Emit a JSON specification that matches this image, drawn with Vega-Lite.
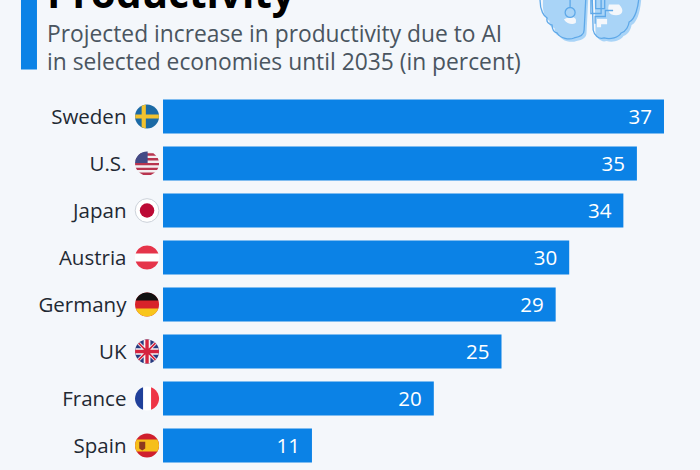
{"$schema":"https://vega.github.io/schema/vega-lite/v6.json","width":700,"height":470,"autosize":{"type":"none"},"padding":0,"background":"#f4f7fb","view":{"stroke":null},
"data":{"values":[{"country":"Sweden","value":37},{"country":"U.S.","value":35},{"country":"Japan","value":34},{"country":"Austria","value":30},{"country":"Germany","value":29},{"country":"UK","value":25},{"country":"France","value":20},{"country":"Spain","value":11}]},
"encoding":{"y":{"field":"country","type":"nominal","axis":null,"scale":{"domain":["h1","h2","Sweden","U.S.","Japan","Austria","Germany","UK","France","Spain"],"range":[-1,469],"paddingInner":0.277,"paddingOuter":0.1385}}},
"layer":[
{"mark":{"type":"bar","color":"#0b82e6"},"encoding":{"x":{"field":"value","type":"quantitative","axis":null,"scale":{"domain":[-12.04,39.66],"range":[0,700],"nice":false,"zero":false}},"x2":{"datum":0}}},
{"mark":{"type":"text","align":"right","baseline":"middle","dx":-12,"dy":1,"font":"Open Sans","fontSize":20.5,"color":"#ffffff"},"encoding":{"x":{"field":"value","type":"quantitative"},"text":{"field":"value","type":"quantitative"}}},
{"mark":{"type":"text","align":"right","baseline":"middle","dy":1,"font":"Open Sans","fontSize":20.5,"color":"#1f2933"},"encoding":{"x":{"datum":-2.7},"text":{"field":"country"}}},

{"data":{"values":[{"n":"bar"}]},"mark":{"type":"rule","color":"#0b82e6","strokeWidth":16,"strokeCap":"butt"},"encoding":{"x":{"datum":-9.9},"y":{"datum":"h1","bandPosition":-1},"y2":{"datum":"h2"}}},
{"data":{"values":[{"t":"Productivity"}]},"mark":{"type":"text","align":"left","baseline":"alphabetic","dy":-14.5,"font":"Open Sans","fontWeight":"bold","fontSize":40.5,"color":"#000000"},"encoding":{"x":{"datum":-8.57},"y":{"datum":"h1"},"text":{"field":"t"}}},
{"data":{"values":[{"t":"Projected increase in productivity due to AI"}]},"mark":{"type":"text","align":"left","baseline":"alphabetic","dy":19.5,"font":"Open Sans","fontSize":22.8,"color":"#4a5560"},"encoding":{"x":{"datum":-8.57},"y":{"datum":"h1"},"text":{"field":"t"}}},
{"data":{"values":[{"t":"in selected economies until 2035 (in percent)"}]},"mark":{"type":"text","align":"left","baseline":"alphabetic","dy":47.5,"font":"Open Sans","fontSize":22.8,"color":"#4a5560"},"encoding":{"x":{"datum":-8.57},"y":{"datum":"h1"},"text":{"field":"t"}}},

{"data":{"values":[{"n":"brain"}]},"layer":[
{"mark":{"type":"point","filled":true,"opacity":1,"size":14400,"color":"#a9d4f7","shape":"M-.77,-.5 L-.77,-.325 C-.78,-.15 -.71,-.05 -.66,-.025 C-.68,.05 -.62,.08 -.577,.092 C-.58,.17 -.54,.22 -.493,.225 C-.44,.32 -.29,.34 -.21,.308 C-.11,.29 -.043,.25 -.043,.175 L-.01,-.5Z M.09,-.5 L.107,.175 C.12,.25 .2,.34 .29,.308 C.4,.34 .53,.3 .573,.225 C.66,.2 .7,.1 .707,.042 C.8,0 .87,-.2 .873,-.5Z"},"encoding":{"x":{"datum":31.47},"y":{"datum":"h1"}}},
{"mark":{"type":"point","filled":true,"opacity":1,"size":14400,"color":"#f4f7fb","shape":"M-.42,-.05 C-.33,-.12 -.2,-.1 -.22,-.02 C-.2,.04 -.36,.05 -.42,-.05Z M.33,-.3 L.5,-.3 C.6,-.2 .55,-.12 .45,-.12 C.33,-.12 .3,-.2 .33,-.3Z M.13,.08 L.13,-.06 L.3,-.06 L.3,.03 L.2,.03 L.2,.08Z"},"encoding":{"x":{"datum":31.47},"y":{"datum":"h1"}}},
{"mark":{"type":"point","filled":false,"opacity":1,"size":14400,"color":"#5ea8e8","strokeWidth":1.3,"shape":"M-.817,-.5 L-.817,-.375 C-.82,-.2 -.75,-.1 -.7,-.075 C-.72,0 -.66,.03 -.617,.042 C-.62,.12 -.58,.17 -.533,.175 C-.48,.27 -.33,.29 -.25,.258 C-.15,.24 -.083,.2 -.083,.125 L-.05,-.5 M.05,-.5 L.067,.125 C.08,.2 .16,.29 .25,.258 C.36,.29 .49,.25 .533,.175 C.62,.15 .66,.05 .667,-.008 C.76,-.05 .83,-.25 .833,-.5 M-.317,-.5 L-.317,-.25 M-.317,-.25 A.083,.083 0 1 0 -.316,-.25 M.03,-.5 L.03,-.15 L.2,-.15 L.2,-.5 M.11,-.5 L.11,-.23 L.26,-.23 L.26,-.5 M.1,.02 L.1,-.1 L.27,-.1 L.27,-.2 L.4,-.2"},"encoding":{"x":{"datum":31.47},"y":{"datum":"h1"}}}
]},

{"transform":[{"filter":"datum.country=='Sweden'"}],"encoding":{"x":{"datum":-1.18}},"layer":[
{"mark":{"type":"point","filled":true,"size":576,"opacity":1,"color":"#1b6aa5"}},
{"mark":{"type":"point","filled":true,"size":576,"opacity":1,"color":"#f2c22e","shape":"M-.45,-.893L-.1,-.995L-.1,-.17L.985,-.17L.985,.17L-.1,.17L-.1,.995L-.45,.893L-.45,.17L-.985,.17L-.985,-.17L-.45,-.17Z"}}
]},
{"transform":[{"filter":"datum.country=='U.S.'"}],"encoding":{"x":{"datum":-1.18}},"layer":[
{"mark":{"type":"point","filled":true,"size":576,"opacity":1,"color":"#f3eef0"}},
{"mark":{"type":"point","filled":true,"size":576,"opacity":1,"color":"#b8344f","shape":"M-.527,-.85L.527,-.85L.76,-.65L-.76,-.65Z M-.893,-.45L.893,-.45L.968,-.25L-.968,-.25Z M-.999,-.05L.999,-.05L.989,.15L-.989,.15Z M-.937,.35L.937,.35L.835,.55L-.835,.55Z M-.661,.75L.661,.75L.312,.95L-.312,.95Z"}},
{"mark":{"type":"point","filled":true,"size":576,"opacity":1,"color":"#434a86","shape":"M.05,-.05L-1,-.05A1,1 0 0 1 .05,-1Z"}}
]},
{"transform":[{"filter":"datum.country=='Japan'"}],"encoding":{"x":{"datum":-1.18}},"layer":[
{"mark":{"type":"point","filled":true,"size":560,"opacity":1,"color":"#ffffff","stroke":"#ccd2da","strokeWidth":1}},
{"mark":{"type":"point","filled":true,"size":210,"opacity":1,"color":"#bc0a35"}}
]},
{"transform":[{"filter":"datum.country=='Austria'"}],"encoding":{"x":{"datum":-1.18}},"layer":[
{"mark":{"type":"point","filled":true,"size":576,"opacity":1,"color":"#ffffff"}},
{"mark":{"type":"point","filled":true,"size":576,"opacity":1,"color":"#e5344a","shape":"M-.943,-.333A1,1 0 0 1 .943,-.333Z M-.943,.333A1,1 0 0 0 .943,.333Z"}}
]},
{"transform":[{"filter":"datum.country=='Germany'"}],"encoding":{"x":{"datum":-1.18}},"layer":[
{"mark":{"type":"point","filled":true,"size":576,"opacity":1,"color":"#d8232a"}},
{"mark":{"type":"point","filled":true,"size":576,"opacity":1,"color":"#111111","shape":"M-.943,-.333A1,1 0 0 1 .943,-.333Z"}},
{"mark":{"type":"point","filled":true,"size":576,"opacity":1,"color":"#f8c51c","shape":"M-.943,.333A1,1 0 0 0 .943,.333Z"}}
]},
{"transform":[{"filter":"datum.country=='UK'"}],"encoding":{"x":{"datum":-1.18}},"layer":[
{"mark":{"type":"point","filled":true,"size":576,"opacity":1,"color":"#27397f"}},
{"mark":{"type":"point","filled":true,"size":576,"opacity":1,"color":"#f4f4f6","shape":"M-.8,-.6L-.6,-.8L.8,.6L.6,.8Z M.6,-.8L.8,-.6L-.6,.8L-.8,.6Z M-.28,-.96L.28,-.96L.28,-.28L.96,-.28L.96,.28L.28,.28L.28,.96L-.28,.96L-.28,.28L-.96,.28L-.96,-.28L-.28,-.28Z"}},
{"mark":{"type":"point","filled":true,"size":576,"opacity":1,"color":"#d5243f","shape":"M-.75,-.65L-.65,-.75L.75,.65L.65,.75Z M.65,-.75L.75,-.65L-.65,.75L-.75,.65Z M-.14,-.99L.14,-.99L.14,-.14L.99,-.14L.99,.14L.14,.14L.14,.99L-.14,.99L-.14,.14L-.99,.14L-.99,-.14L-.14,-.14Z"}}
]},
{"transform":[{"filter":"datum.country=='France'"}],"encoding":{"x":{"datum":-1.18}},"layer":[
{"mark":{"type":"point","filled":true,"size":576,"opacity":1,"color":"#ffffff"}},
{"mark":{"type":"point","filled":true,"size":576,"opacity":1,"color":"#20409a","shape":"M-.333,-.943A1,1 0 0 0 -.333,.943Z"}},
{"mark":{"type":"point","filled":true,"size":576,"opacity":1,"color":"#ee3446","shape":"M.333,-.943A1,1 0 0 1 .333,.943Z"}}
]},
{"transform":[{"filter":"datum.country=='Spain'"}],"encoding":{"x":{"datum":-1.18}},"layer":[
{"mark":{"type":"point","filled":true,"size":576,"opacity":1,"color":"#cf1f2e"}},
{"mark":{"type":"point","filled":true,"size":576,"opacity":1,"color":"#f6bf1a","shape":"M-.866,-.5L.866,-.5A1,1 0 0 1 .866,.5L-.866,.5A1,1 0 0 1 -.866,-.5Z"}},
{"mark":{"type":"point","filled":true,"size":576,"opacity":1,"color":"#8c3a1e","shape":"M-.65,-.32L-.15,-.32L-.15,.25L-.4,.42L-.65,.25Z"}}
]}
],
"config":{"style":{"cell":{"stroke":null}}}}
